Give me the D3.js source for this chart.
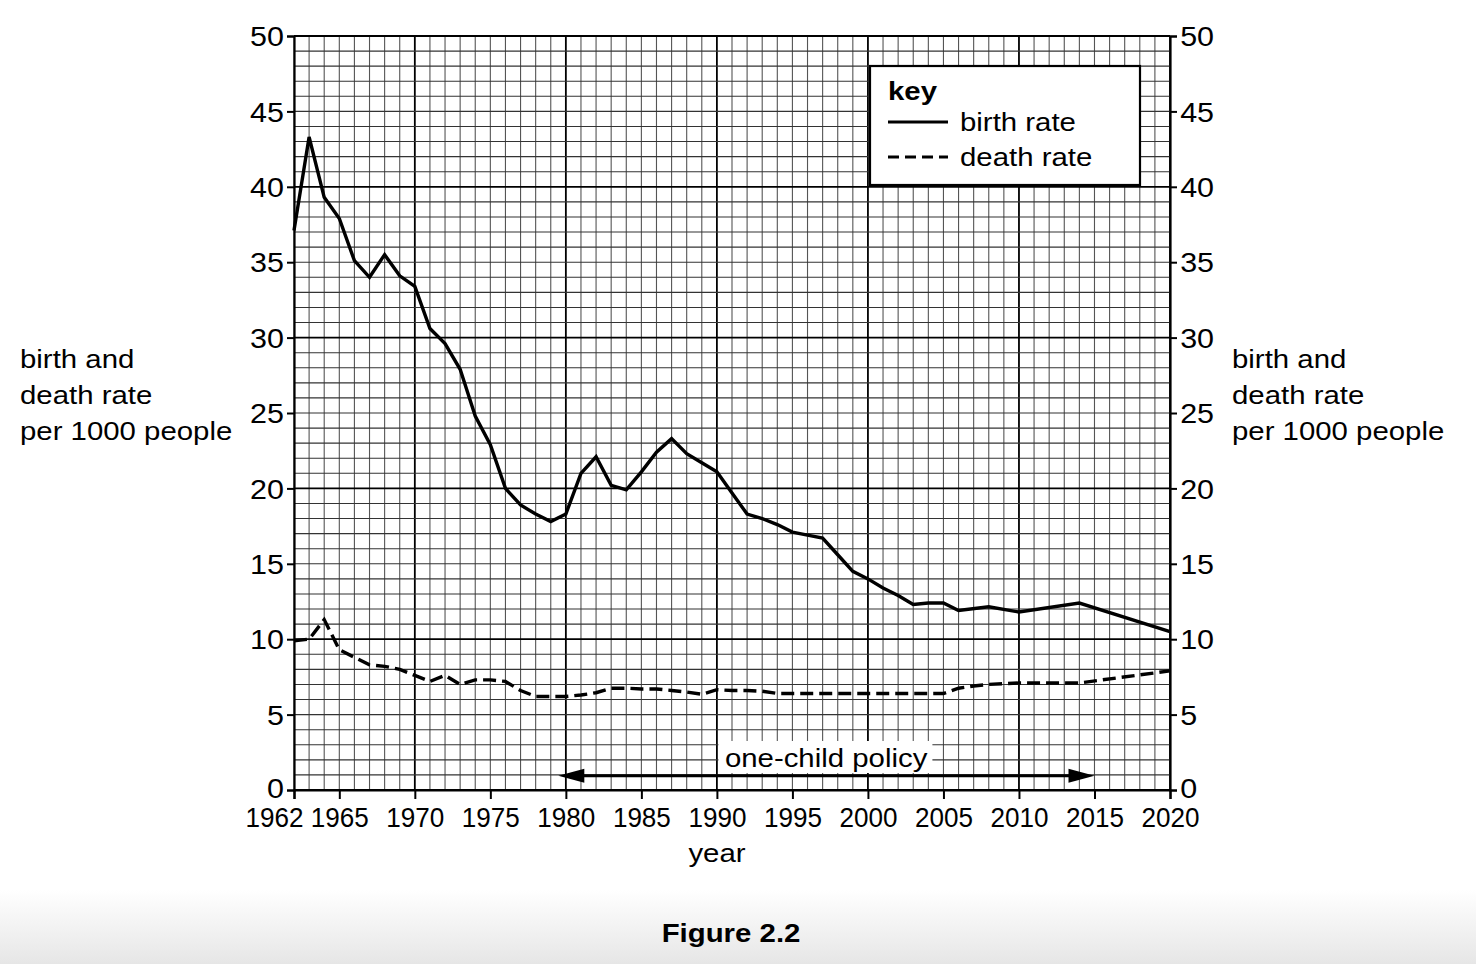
<!DOCTYPE html>
<html>
<head>
<meta charset="utf-8">
<script src="https://cdn.jsdelivr.net/npm/d3@7"></script>
<style>
  body { margin: 0; background: #fff; }
  text { font-family: "Liberation Sans", Arial, sans-serif; fill: #000; }
</style>
</head>
<body>
<div id="chart"></div>
<script>
// birth rate per 1000 people
var birthYears = [1962, 1963, 1964, 1965, 1966, 1967, 1968, 1969, 1970, 1971, 1972, 1973, 1974, 1975, 1976, 1977, 1978, 1979, 1980,
  1981, 1982, 1983, 1984, 1985, 1986, 1987, 1988, 1989, 1990, 1991, 1992, 1993, 1994, 1995, 1996, 1997, 1998, 1999, 2000,
  2001, 2002, 2003, 2004, 2005, 2006, 2008, 2010, 2014, 2020];
var birthRate = [37.1, 43.3, 39.3, 37.9, 35.1, 34.0, 35.5, 34.1, 33.4, 30.6, 29.6, 27.9, 24.8, 22.9, 20.0, 18.9, 18.3, 17.8, 18.3,
  21.0, 22.1, 20.2, 19.9, 21.1, 22.4, 23.3, 22.3, 21.7, 21.1, 19.7, 18.3, 18.0, 17.6, 17.1, 16.9, 16.7, 15.6, 14.5, 14.0,
  13.4, 12.9, 12.3, 12.4, 12.4, 11.9, 12.15, 11.8, 12.4, 10.5];

// death rate per 1000 people
var deathYears = [1962, 1963, 1964, 1965, 1966, 1967, 1968, 1969, 1970, 1971, 1972, 1973, 1974, 1975, 1976, 1977, 1978, 1979, 1980,
  1981, 1982, 1983, 1984, 1985, 1986, 1987, 1988, 1989, 1990, 1991, 1992, 1993, 1994, 2000, 2005, 2006, 2007, 2008, 2010, 2014, 2020];
var deathRate = [9.9, 10.0, 11.3, 9.3, 8.8, 8.3, 8.2, 8.0, 7.6, 7.2, 7.6, 7.0, 7.3, 7.3, 7.2, 6.6, 6.2, 6.2, 6.2,
  6.3, 6.45, 6.75, 6.75, 6.7, 6.7, 6.6, 6.5, 6.35, 6.65, 6.6, 6.6, 6.55, 6.4, 6.4, 6.4, 6.75, 6.9, 7.0, 7.1, 7.1, 7.9];

// tick labels
var yearTicks = [1962, 1965, 1970, 1975, 1980, 1985, 1990, 1995, 2000, 2005, 2010, 2015, 2020];
var rateTicks = [0, 5, 10, 15, 20, 25, 30, 35, 40, 45, 50];

// one-child policy arrow (arrow tips, in years) and its level
var policySpan = [1979.5, 2015];
var policyLevel = 0.95;

var svgWidth = 1476;
var svgHeight = 964;
// the scanned figure is a little wider than tall, text included
var stretch = 1.13;

var svg = d3.select("#chart")
  .append("svg")
  .attr("width", svgWidth)
  .attr("height", svgHeight);

// put a text at (x, y) stretched sideways like the original
function addText(parent, tx, ty, str) {
  return parent.append("text")
    .attr("transform", `translate(${tx}, ${ty}) scale(${stretch}, 1)`)
    .attr("font-size", "26px")
    .text(str);
}

// grey fade at the bottom of the page
var defs = svg.append("defs");
var fade = defs.append("linearGradient")
  .attr("id", "fade")
  .attr("x1", 0).attr("y1", 0).attr("x2", 0).attr("y2", 1);
fade.append("stop").attr("offset", "0%").attr("stop-color", "#ffffff");
fade.append("stop").attr("offset", "100%").attr("stop-color", "#e6e6e6");
svg.append("rect")
  .attr("x", 0).attr("y", 890)
  .attr("width", svgWidth).attr("height", svgHeight - 890)
  .attr("fill", "url(#fade)");

var x = d3.scaleLinear().domain([1962, 2020]).range([294, 1170]);
var y = d3.scaleLinear().domain([0, 50]).range([790, 36]);

// ============ grid ============
var grid = svg.append("g");
var gridYears = d3.range(1962, 2021);
var gridRates = d3.range(0, 51);

grid.selectAll(".vline")
  .data(gridYears)
  .enter()
  .append("line")
  .attr("x1", d => x(d)).attr("x2", d => x(d))
  .attr("y1", y(0)).attr("y2", y(50))
  .attr("stroke", d => d % 10 === 0 ? "#000" : "#555")
  .attr("stroke-width", d => d % 10 === 0 ? 1.8 : 1.1);

grid.selectAll(".hline")
  .data(gridRates)
  .enter()
  .append("line")
  .attr("x1", x(1962)).attr("x2", x(2020))
  .attr("y1", d => y(d)).attr("y2", d => y(d))
  .attr("stroke", d => d % 10 === 0 ? "#000" : "#333")
  .attr("stroke-width", d => d % 10 === 0 ? 1.8 : 1.1);

// ============ axes ============
var bottomAxis = d3.axisBottom(x)
  .tickValues(yearTicks)
  .tickFormat(d3.format("d"))
  .tickSize(9)
  .tickPadding(7);
var leftAxis = d3.axisLeft(y).tickValues(rateTicks).tickSize(7).tickPadding(2);
var rightAxis = d3.axisRight(y).tickValues(rateTicks).tickSize(7).tickPadding(2);

function styleAxis(g) {
  g.select(".domain").attr("stroke", "#000").attr("stroke-width", 2.2);
  g.selectAll(".tick line").attr("stroke", "#000").attr("stroke-width", 2);
  g.selectAll(".tick text")
    .attr("font-family", "Liberation Sans, Arial, sans-serif")
    .attr("font-size", "27px")
    .attr("fill", "#000");
}

var xAxis = svg.append("g")
  .attr("transform", `translate(0, ${y(0)})`)
  .call(bottomAxis)
  .call(styleAxis);
xAxis.selectAll(".tick text")
  .attr("dy", "0.78em")
  .attr("textLength", 58)
  .attr("lengthAdjust", "spacingAndGlyphs");
// first year label sits left of its tick so it clears 1965
xAxis.selectAll(".tick text")
  .filter(d => d === 1962)
  .attr("text-anchor", "end")
  .attr("dx", 9);

// the "0" labels sit a touch high so they clear the year labels
function rateLabelShift(d) {
  return d === 0 ? "0.28em" : "0.36em";
}

svg.append("g")
  .attr("transform", `translate(${x(1962)}, 0)`)
  .call(leftAxis)
  .call(styleAxis)
  .selectAll(".tick text")
  .attr("dy", rateLabelShift)
  .attr("transform", `scale(${stretch}, 1)`);

svg.append("g")
  .attr("transform", `translate(${x(2020)}, 0)`)
  .call(rightAxis)
  .call(styleAxis)
  .selectAll(".tick text")
  .attr("dy", rateLabelShift)
  .attr("transform", `scale(${stretch}, 1)`);

// top frame
svg.append("line")
  .attr("x1", x(1962)).attr("x2", x(2020))
  .attr("y1", y(50)).attr("y2", y(50))
  .attr("stroke", "#000").attr("stroke-width", 2);

// ============ lines ============
var birthData = birthYears.map((yr, i) => ({ year: yr, value: birthRate[i] }));
var deathData = deathYears.map((yr, i) => ({ year: yr, value: deathRate[i] }));

var line = d3.line()
  .x(d => x(d.year))
  .y(d => y(d.value));

svg.append("path")
  .datum(birthData)
  .attr("d", line)
  .attr("fill", "none")
  .attr("stroke", "#000")
  .attr("stroke-width", 3.4)
  .attr("stroke-linejoin", "miter");

svg.append("path")
  .datum(deathData)
  .attr("d", line)
  .attr("fill", "none")
  .attr("stroke", "#000")
  .attr("stroke-width", 3.4)
  .attr("stroke-dasharray", "13,6");

// ============ one-child policy ============
var ay = y(policyLevel);
var ax0 = x(policySpan[0]);
var ax1 = x(policySpan[1]);

svg.append("line")
  .attr("x1", ax0 + 20).attr("x2", ax1 - 20)
  .attr("y1", ay).attr("y2", ay)
  .attr("stroke", "#000")
  .attr("stroke-width", 3);

svg.append("path")
  .attr("d", `M${ax0},${ay} L${ax0 + 26},${ay - 7} L${ax0 + 26},${ay + 7} Z`)
  .attr("fill", "#000");
svg.append("path")
  .attr("d", `M${ax1},${ay} L${ax1 - 26},${ay - 7} L${ax1 - 26},${ay + 7} Z`)
  .attr("fill", "#000");

svg.append("rect")
  .attr("x", x(1990) + 1.5).attr("y", 741)
  .attr("width", 214).attr("height", 32)
  .attr("fill", "#fff");

addText(svg, x(1990) + 8, 767, "one-child policy");

// ============ key ============
var key = svg.append("g");
key.append("rect")
  .attr("x", 870).attr("y", 66)
  .attr("width", 270).attr("height", 119)
  .attr("fill", "#fff")
  .attr("stroke", "#000")
  .attr("stroke-width", 2.2);

addText(key, 888, 100, "key").attr("font-weight", "bold");

key.append("line")
  .attr("x1", 888).attr("x2", 948)
  .attr("y1", 122).attr("y2", 122)
  .attr("stroke", "#000").attr("stroke-width", 3);
addText(key, 960, 131, "birth rate");

key.append("line")
  .attr("x1", 888).attr("x2", 948)
  .attr("y1", 157).attr("y2", 157)
  .attr("stroke", "#000").attr("stroke-width", 3)
  .attr("stroke-dasharray", "11,6");
addText(key, 960, 166, "death rate");

// ============ axis titles ============
var yTitle = ["birth and", "death rate", "per 1000 people"];

yTitle.forEach(function(str, i) {
  addText(svg, 20, 368 + i * 36, str);
  addText(svg, 1232, 368 + i * 36, str);
});

addText(svg, 717, 862, "year").attr("text-anchor", "middle");

addText(svg, 731, 942, "Figure 2.2")
  .attr("text-anchor", "middle")
  .attr("font-weight", "bold");
</script>
</body>
</html>
